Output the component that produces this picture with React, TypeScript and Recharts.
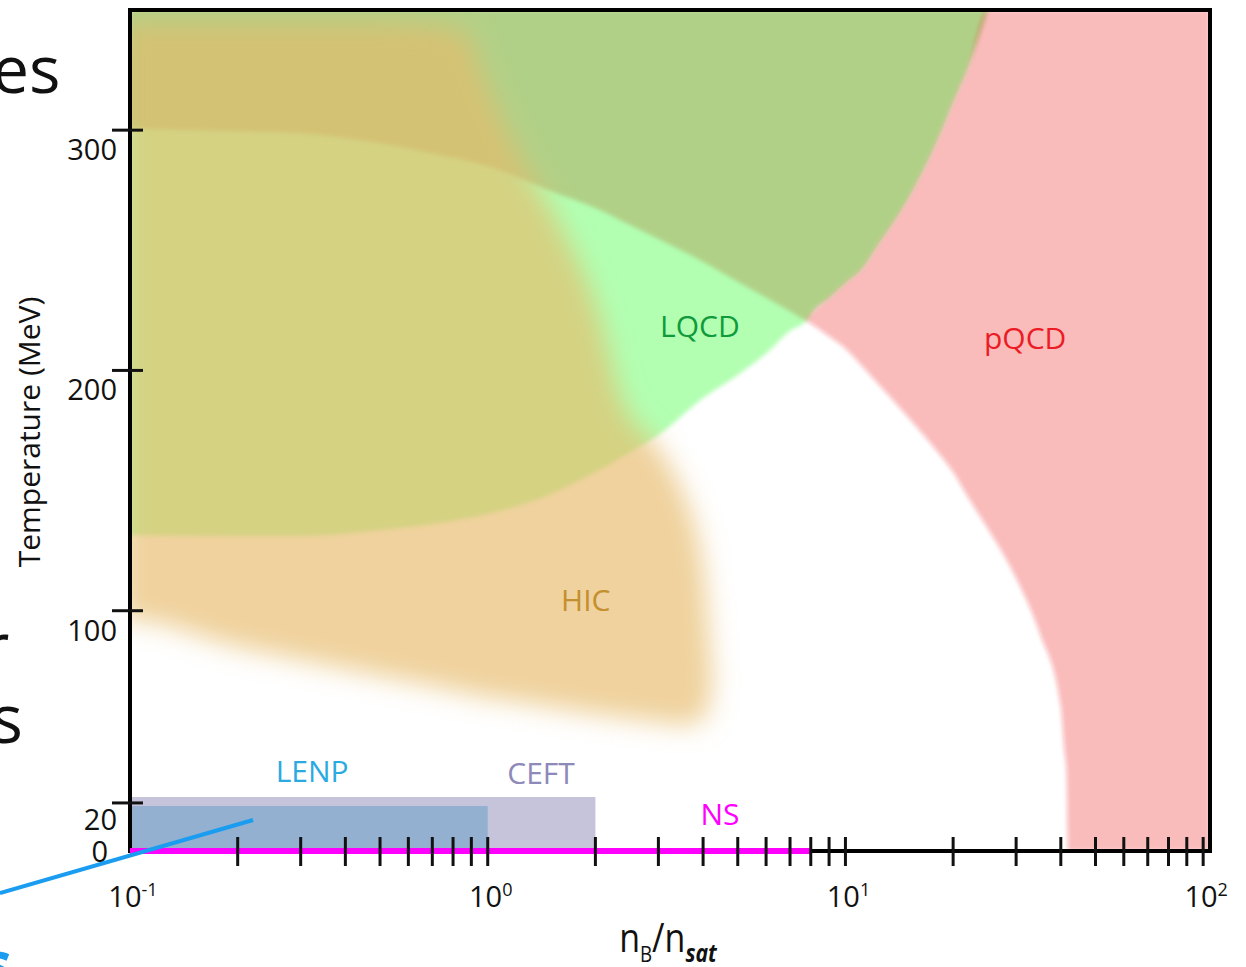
import React from 'react';
import { ComposedChart, Area, XAxis, YAxis, ReferenceArea, ReferenceLine, ReferenceDot } from 'recharts';

const FONT = '"Open Sans", "DejaVu Sans", sans-serif';

const X_DOMAIN: [number, number] = [0.1, 104.5];
const T_DOMAIN: [number, number] = [0, 350];

// log axis ticks (minor + decades)
const X_TICKS = [0.1, 0.2, 0.3, 0.4, 0.5, 0.6, 0.7, 0.8, 0.9, 1, 2, 3, 4, 5, 6, 7, 8, 9, 10, 20, 30, 40, 50, 60, 70, 80, 90, 100];
const DECADE_EXP: Record<string, string> = { '0.1': '-1', '1': '0', '10': '1', '100': '2' };
const T_TICKS = [0, 20, 100, 200, 300];

// regions as [n/nsat, T low, T high]
const LQCD_BAND = [
  [0.1, 131.5, 350], [0.2, 131.1, 350], [0.3, 131.1, 350], [0.5, 133.6, 350], [0.7, 136.1, 350],
  [1, 140.2, 350], [1.5, 148.6, 350], [2, 157.7, 350], [2.5, 166, 350], [3, 173.1, 350],
  [4, 188.5, 350], [5, 198.1, 350], [6, 207, 350], [7, 216.5, 350], [7.8, 221, 350],
  [8, 223.6, 350], [9, 230.4, 350], [10, 236.5, 350], [11.2, 243, 350], [12, 249.8, 350],
  [15, 272, 350], [18.4, 298.8, 350], [20, 312, 350], [22, 326.3, 350], [25, 350, 350],
];

// part of the LQCD band outside the hadronic arc
const LQCD_OUTER = [
  [0.1, 300.9, 350], [0.15, 300, 350], [0.2, 299.5, 350], [0.3, 298.7, 350], [0.5, 294.5, 350],
  [0.7, 290.3, 350], [1, 285.1, 350], [1.5, 274.7, 350], [2, 267.6, 350], [2.5, 260.5, 350],
  [3, 254.7, 350], [4, 245.2, 350], [5, 236.9, 350], [6, 230.3, 350], [7, 224.6, 350],
  [7.8, 221, 350], [8, 223.6, 350], [9, 230.4, 350], [10, 236.5, 350], [11.2, 243, 350],
  [12, 249.8, 350], [15, 272, 350], [18.4, 298.8, 350], [20, 312, 350], [22, 326.3, 350], [25, 350, 350],
];

const PQCD = [
  [7.8, 220.6, 221.5], [8, 219.5, 223.6], [9, 214.2, 230.4], [10, 209.1, 236.5], [11.2, 201.4, 243],
  [12, 196.4, 249.8], [15, 180.4, 272], [18.4, 164.8, 298.8], [20, 157.7, 312], [22, 147.3, 326.3],
  [25, 134.2, 350], [30, 113.6, 350], [35, 90.3, 350], [40, 60.3, 350], [41, 41.2, 350],
  [41.5, 33.7, 350], [42, 0, 350], [104.5, 0, 350],
];

const HIC = [
  [0.095, 96.1, 345], [0.1, 96.1, 345], [0.2, 84.9, 345], [0.3, 79.5, 345], [0.5, 72.8, 345],
  [0.85, 66, 342], [1, 63.8, 318], [1.2, 62.2, 292], [1.6, 59.1, 260], [2, 57, 228],
  [2.4, 55.3, 186], [3, 53.7, 168], [3.5, 52.4, 150], [3.8, 53, 135], [4.05, 56, 112],
  [4.15, 60, 92], [4.25, 70, 72],
];

// [x1, x2, T1, T2]
const CEFT_BOX = [0.1, 2, 0, 22.5];
const LENP_BOX = [0.1, 1, 0, 18.7];
const NS_SPAN = [0.1, 8];
const CALLOUT = [[0.0433, -17.5], [0.2208, 12.9]];

const LABELS = [
  { text: 'LQCD', x: 3.92, t: 218.9, color: '#109a3c' },
  { text: 'pQCD', x: 31.8, t: 213.9, color: '#ec1c24' },
  { text: 'HIC', x: 1.88, t: 104.5, color: '#c48f2e' },
  { text: 'LENP', x: 0.323, t: 33.7, color: '#29aae1' },
  { text: 'CEFT', x: 1.41, t: 32.5, color: '#8d89b8' },
  { text: 'NS', x: 4.46, t: 15.8, color: '#ff00ff' },
];

const rows = (pts: number[][]) => pts.map(([x, lo, hi]) => ({ x, range: [lo, hi] }));

const XTick = ({ x, y, payload }: any) => {
  const exp = DECADE_EXP[String(payload.value)];
  return (
    <g>
      {payload.value !== X_DOMAIN[0] && (
        <line x1={x} x2={x} y1={y - 14} y2={y + 15} stroke="#111" strokeWidth={3} />
      )}
      {exp && (
        <text x={x + 3} y={y + 56} textAnchor="middle" fontFamily={FONT} fontSize={29} fill="#111">
          10<tspan fontSize={18} dy={-11}>{exp}</tspan>
        </text>
      )}
    </g>
  );
};

const YTick = ({ x, y, payload }: any) => {
  if (payload.value === 0) {
    return (
      <text x={x - 22} y={y + 11} textAnchor="end" fontFamily={FONT} fontSize={29} fill="#111">0</text>
    );
  }
  return (
    <g>
      <line x1={x - 18} x2={x + 13} y1={y} y2={y} stroke="#111" strokeWidth={3} />
      <text x={x - 13} y={y + (payload.value === 20 ? 27 : 30)} textAnchor="end" fontFamily={FONT} fontSize={29} fill="#111">
        {payload.value}
      </text>
    </g>
  );
};

export default function App() {
  return (
    <div style={{ position: 'absolute', left: 0, top: 0, width: 1246, height: 967, overflow: 'hidden', background: '#fff' }}>
      <style>{'.soft path{filter:url(#soft)} .wide path{filter:url(#wide)}'}</style>
      <svg width={0} height={0} style={{ position: 'absolute' }}>
        <defs>
          <filter id="soft" x="-10%" y="-10%" width="120%" height="120%">
            <feGaussianBlur stdDeviation="2.2" />
          </filter>
          <filter id="wide" x="-30%" y="-30%" width="160%" height="160%">
            <feGaussianBlur stdDeviation="13" />
          </filter>
        </defs>
      </svg>

      <ComposedChart width={1246} height={967} margin={{ top: 10, right: 36, bottom: 115, left: 129 }}>
        <ReferenceArea x1={CEFT_BOX[0]} x2={CEFT_BOX[1]} y1={CEFT_BOX[2]} y2={CEFT_BOX[3]} zIndex={10}
          fill="#c6c4da" fillOpacity={1} stroke="none" ifOverflow="visible" />
        <ReferenceArea x1={LENP_BOX[0]} x2={LENP_BOX[1]} y1={LENP_BOX[2]} y2={LENP_BOX[3]} zIndex={11}
          fill="#93b0d1" fillOpacity={1} stroke="none" ifOverflow="visible" />

        <XAxis type="number" dataKey="x" scale="log" domain={X_DOMAIN} allowDataOverflow ticks={X_TICKS}
          interval={0} height={1} axisLine={false} tickLine={false} tickSize={0} tickMargin={0} zIndex={50}
          tick={(p: any) => <XTick {...p} />} />
        <YAxis type="number" domain={T_DOMAIN} allowDataOverflow ticks={T_TICKS} interval={0} width={1}
          axisLine={false} tickLine={false} tickSize={0} tickMargin={0} zIndex={50}
          tick={(p: any) => <YTick {...p} />} />

        <Area data={rows(LQCD_BAND)} dataKey="range" type="monotone" className="soft"
          fill="#00ff00" fillOpacity={0.3} stroke="none" dot={false} activeDot={false} isAnimationActive={false} />
        <Area data={rows(LQCD_OUTER)} dataKey="range" type="monotone" className="soft"
          fill="#b0a15e" fillOpacity={0.5} stroke="none" dot={false} activeDot={false} isAnimationActive={false} />
        <Area data={rows(PQCD)} dataKey="range" type="monotone" className="soft"
          fill="#ed1c24" fillOpacity={0.3} stroke="none" dot={false} activeDot={false} isAnimationActive={false} />
        <Area data={rows(HIC)} dataKey="range" type="monotone" className="wide"
          fill="#e7bb68" fillOpacity={0.66} stroke="none" dot={false} activeDot={false} isAnimationActive={false} />

        <ReferenceArea x1={X_DOMAIN[0]} x2={X_DOMAIN[1]} y1={T_DOMAIN[0]} y2={T_DOMAIN[1]} zIndex={700}
          fill="none" fillOpacity={0} stroke="#000" strokeWidth={4} ifOverflow="visible" />
        <ReferenceLine segment={[{ x: NS_SPAN[0], y: 0 }, { x: NS_SPAN[1], y: 0 }]} zIndex={800}
          stroke="#ff00ff" strokeWidth={6} ifOverflow="visible" />
        <ReferenceLine segment={[{ x: CALLOUT[0][0], y: CALLOUT[0][1] }, { x: CALLOUT[1][0], y: CALLOUT[1][1] }]}
          zIndex={800} stroke="#1a9cf0" strokeWidth={4} ifOverflow="visible" />

        {LABELS.map((l) => (
          <ReferenceDot key={l.text} x={l.x} y={l.t} r={0} ifOverflow="visible" zIndex={2000}
            shape={(p: any) => (
              <text x={p.cx} y={p.cy} textAnchor="middle" dominantBaseline="central"
                fontFamily={FONT} fontSize={30} fill={l.color}>{l.text}</text>
            )} />
        ))}
      </ComposedChart>

      <svg width={1246} height={967} style={{ position: 'absolute', left: 0, top: 0, pointerEvents: 'none' }}>
        <text transform="translate(40,432) rotate(-90)" textAnchor="middle" fontFamily={FONT} fontSize={30} fill="#111">
          Temperature (MeV)
        </text>
        <text transform="translate(668,952) scale(0.85,1)" textAnchor="middle" fontFamily={FONT} fontSize={40} fill="#111">
          n<tspan fontSize={22} dy={10}>B</tspan><tspan fontSize={40} dy={-10}>/n</tspan>
          <tspan fontSize={25} fontWeight="bold" fontStyle="italic" dy={10}>sat</tspan>
        </text>
        <text x={-8} y={93} fontFamily={FONT} fontSize={66} fill="#111">es</text>
        <text x={-18} y={671} fontFamily={FONT} fontSize={67} fill="#111">r</text>
        <text x={-9} y={743} fontFamily={FONT} fontSize={67} fill="#111">s</text>
        <text x={-18} y={985} fontFamily={FONT} fontSize={60} fontWeight="bold" fill="#1a9cf0">s</text>
      </svg>
    </div>
  );
}
